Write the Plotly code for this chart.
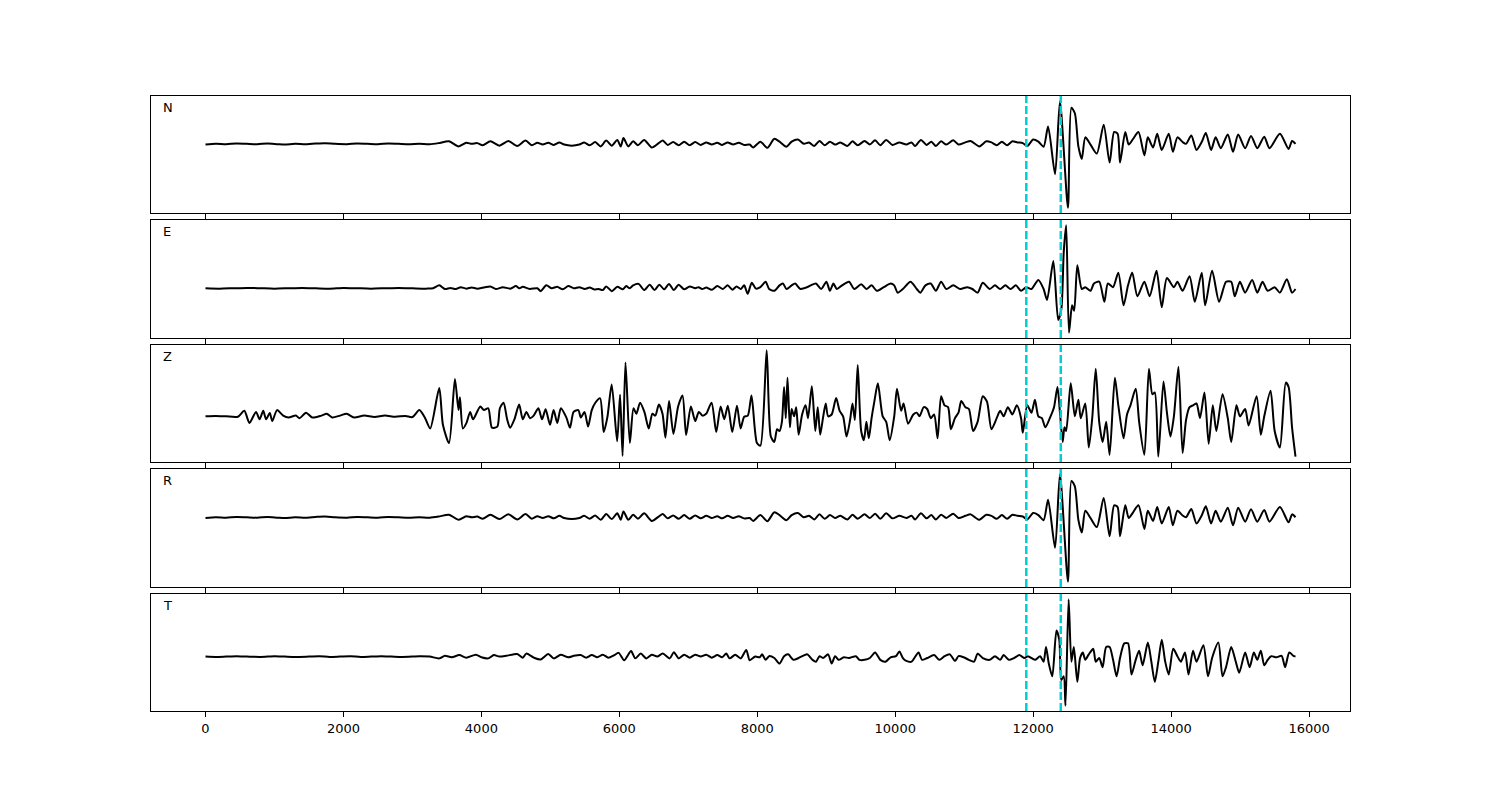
import plotly.graph_objects as go

# Seismogram turning points: (time, amplitude)
N_pts = [(0,-2),(150,0),(300,-1),(450,1),(600,0),(750,-1),(900,1),(1050,-1),(1150,-2),(1300,0),(1450,-1),(1600,1),(1730,2),(1880,0),(2050,-1),(2200,1),(2350,0),(2500,-1),(2650,1),(2800,0),(2950,-1),(3100,0),(3250,-1),(3380,2),(3530,7),(3670,-7),(3780,3),(3860,0),(3940,2),(4020,-4),(4130,7),(4260,-5),(4390,8),(4520,-6),(4640,9),(4730,-4),(4810,3),(4890,-2),(4970,3),(5050,-3),(5130,4),(5200,-2),(5310,-5),(5420,-2),(5490,4),(5570,-4),(5650,5),(5730,-7),(5810,9),(5890,-5),(5970,11),(6020,-7),(6060,16),(6130,-7),(6200,7),(6270,-4),(6360,11),(6470,-10),(6570,2),(6630,9),(6700,-3),(6780,5),(6860,-4),(6940,6),(7020,-4),(7100,5),(7180,-3),(7260,4),(7340,-2),(7420,3),(7490,-3),(7570,4),(7650,-2),(7730,3),(7810,-3),(7890,-2),(7940,-10),(8045,6),(8146,-11),(8247,14),(8322,6),(8423,-8),(8498,6),(8589,12),(8675,0),(8750,4),(8826,-6),(8902,8),(8977,-4),(9053,6),(9128,-2),(9204,4),(9305,-6),(9380,7),(9456,-4),(9556,8),(9632,-2),(9708,10),(9783,-4),(9869,11),(9959,-3),(10060,4),(10161,-2),(10237,4),(10287,-6),(10373,11),(10453,-3),(10524,6),(10589,-6),(10665,7),(10740,-2),(10841,10),(10917,-2),(11017,4),(11093,8),(11219,-7),(11320,7),(11395,4),(11471,-4),(11546,6),(11622,-4),(11698,7),(11773,4),(11849,2),(11914,-6),(12000,12),(12075,6),(12151,-8),(12216,48),(12317,-84),(12388,118),(12504,-177),(12554,100),(12604,85),(12655,-7),(12705,-42),(12755,18),(12831,-2),(12922,-27),(13022,53),(13108,-52),(13174,33),(13224,28),(13259,-52),(13335,33),(13385,-2),(13446,13),(13526,33),(13612,-32),(13662,18),(13738,-10),(13798,28),(13864,-17),(13965,28),(14025,-22),(14091,18),(14166,5),(14216,0),(14292,23),(14368,-17),(14443,5),(14503,30),(14579,-17),(14645,18),(14720,-12),(14821,26),(14897,-22),(14972,26),(15073,-12),(15158,22),(15249,-12),(15350,20),(15425,-12),(15577,28),(15703,-14),(15753,8),(15803,0)]

E_pts = [(0,0),(200,-1),(400,0),(600,1),(800,0),(1000,-1),(1200,0),(1400,1),(1600,0),(1800,-1),(2000,1),(2200,0),(2400,-1),(2600,0),(2800,1),(3000,0),(3200,-1),(3300,0),(3390,8),(3470,-2),(3550,1),(3630,-2),(3700,3),(3780,-1),(3860,2),(3940,-1),(4050,3),(4130,5),(4210,-2),(4310,3),(4420,-1),(4500,6),(4550,0),(4600,4),(4700,-2),(4810,0),(4860,-8),(4940,8),(5020,0),(5100,4),(5180,-3),(5260,6),(5340,0),(5420,3),(5500,-2),(5570,2),(5630,-3),(5700,-2),(5760,-5),(5810,5),(5890,-8),(5970,4),(6050,-3),(6100,6),(6150,0),(6200,8),(6280,12),(6360,-5),(6440,10),(6510,-5),(6580,10),(6650,-3),(6720,12),(6790,-5),(6860,10),(6940,-3),(7020,5),(7100,0),(7150,3),(7200,-2),(7260,2),(7340,-4),(7420,6),(7500,-2),(7570,8),(7640,-4),(7700,5),(7760,-2),(7810,8),(7860,-15),(7920,15),(7980,-1),(8045,3),(8121,18),(8171,-2),(8247,-7),(8322,8),(8372,13),(8423,-2),(8498,8),(8549,13),(8624,-2),(8725,3),(8776,8),(8851,13),(8927,-2),(9002,18),(9053,-7),(9103,13),(9153,-2),(9229,8),(9330,18),(9405,-2),(9506,11),(9582,-2),(9657,8),(9733,-7),(9833,3),(9934,13),(9985,8),(10035,-12),(10111,-2),(10221,18),(10312,-2),(10363,-12),(10438,8),(10514,13),(10589,-7),(10665,18),(10740,-2),(10841,8),(10942,-2),(11043,3),(11118,-2),(11194,-12),(11269,15),(11370,-2),(11446,8),(11521,-2),(11597,8),(11672,-2),(11748,8),(11824,-7),(11899,3),(11975,-2),(12075,23),(12151,-2),(12201,-32),(12292,75),(12362,-87),(12408,-57),(12443,100),(12478,173),(12519,-122),(12564,-47),(12594,-62),(12640,63),(12705,-2),(12755,3),(12831,-7),(12881,13),(12957,18),(13032,-37),(13083,13),(13158,3),(13234,43),(13310,-47),(13375,8),(13436,43),(13511,-22),(13612,18),(13688,-22),(13788,48),(13864,-52),(13939,28),(14040,3),(14091,18),(14166,-7),(14267,33),(14343,-37),(14443,43),(14493,-47),(14594,48),(14695,-37),(14796,18),(14871,18),(14922,-22),(14997,18),(15073,-12),(15174,23),(15249,-12),(15325,18),(15400,-7),(15501,3),(15577,-12),(15677,25),(15753,-12),(15803,-2)]

Z_pts = [(0,0),(150,1),(300,0),(470,-1),(563,15),(637,-18),(732,12),(784,-8),(837,15),(879,-8),(932,9),(968,-13),(1037,17),(1126,2),(1205,-3),(1310,2),(1363,-5),(1458,10),(1547,-3),(1679,2),(1758,7),(1837,-3),(1950,2),(2047,7),(2153,-3),(2300,2),(2450,-2),(2600,2),(2750,-1),(2900,1),(3000,-2),(3100,17),(3179,-3),(3258,-33),(3389,77),(3442,-23),(3531,-73),(3616,102),(3668,17),(3689,52),(3731,-33),(3784,-18),(3837,12),(3879,-8),(3984,27),(4037,17),(4100,22),(4153,-31),(4231,-28),(4268,22),(4321,37),(4373,-8),(4416,-31),(4479,-8),(4547,32),(4600,-8),(4652,12),(4705,-5),(4758,2),(4826,22),(4879,-8),(4931,19),(4995,-23),(5047,17),(5100,-18),(5152,22),(5231,-3),(5284,-31),(5337,12),(5405,17),(5442,-3),(5495,12),(5547,-28),(5600,17),(5652,37),(5721,49),(5773,-43),(5826,-3),(5889,87),(5968,-68),(6010,59),(6047,-108),(6089,147),(6152,-73),(6205,22),(6247,7),(6300,37),(6363,12),(6426,-33),(6479,7),(6521,2),(6573,32),(6626,7),(6668,-58),(6721,42),(6784,-48),(6852,27),(6916,57),(6968,-51),(7037,27),(7100,-13),(7152,12),(7205,2),(7258,7),(7337,37),(7405,-43),(7468,27),(7521,-8),(7573,29),(7637,-43),(7705,29),(7758,-33),(7810,-1),(7863,2),(7916,57),(7995,-73),(8045,-80),(8136,180),(8196,-55),(8247,-70),(8287,-35),(8322,-40),(8357,-15),(8388,80),(8413,-5),(8438,105),(8473,-30),(8498,20),(8534,0),(8564,25),(8599,-50),(8650,5),(8700,30),(8735,-5),(8791,82),(8841,-40),(8876,25),(8912,-50),(8952,-5),(8992,35),(9027,0),(9078,5),(9143,50),(9194,15),(9244,0),(9294,-55),(9345,-10),(9380,35),(9415,-10),(9456,140),(9506,-40),(9546,-65),(9582,-15),(9617,-60),(9657,-5),(9697,40),(9748,90),(9818,0),(9869,-15),(9919,-65),(9985,0),(10025,75),(10085,15),(10121,35),(10186,-20),(10262,5),(10312,10),(10352,0),(10413,25),(10463,20),(10514,-5),(10564,5),(10614,-60),(10665,55),(10715,30),(10766,25),(10806,-35),(10866,-5),(10917,10),(10957,42),(11017,25),(11068,20),(11128,-40),(11194,-15),(11269,55),(11330,40),(11395,-35),(11471,-5),(11521,15),(11572,0),(11632,25),(11698,5),(11763,30),(11824,-5),(11849,-45),(11914,30),(11975,10),(12025,45),(12075,0),(12126,-5),(12176,-30),(12252,0),(12302,25),(12352,80),(12388,10),(12428,-70),(12453,-30),(12478,-40),(12544,90),(12604,0),(12655,45),(12690,-5),(12755,35),(12806,-85),(12856,-5),(12907,130),(12957,-15),(13007,-70),(13058,-15),(13108,-105),(13184,105),(13234,30),(13310,-60),(13360,5),(13410,30),(13486,75),(13536,-15),(13612,-105),(13678,130),(13728,60),(13763,65),(13814,-110),(13889,95),(13939,10),(13990,-55),(14040,0),(14106,135),(14166,-100),(14216,-10),(14267,25),(14317,30),(14368,35),(14418,-5),(14483,65),(14544,-75),(14604,30),(14655,-40),(14745,60),(14821,-5),(14871,-70),(14947,30),(14997,0),(15073,20),(15123,-25),(15239,55),(15300,-50),(15350,0),(15441,70),(15501,-40),(15577,-85),(15662,92),(15703,80),(15753,-30),(15803,-110)]

# The R component is indistinguishable from N at this resolution
R_pts = list(N_pts)

T_pts = [(0,0),(150,-1),(300,0),(450,1),(600,0),(800,-1),(1000,1),(1150,0),(1300,-1),(1500,0),(1650,1),(1800,-1),(1950,0),(2100,1),(2250,-1),(2400,0),(2550,1),(2700,0),(2850,-1),(3000,0),(3100,1),(3250,0),(3390,-5),(3470,2),(3570,-2),(3680,4),(3780,-3),(3920,5),(4000,-2),(4100,-5),(4180,4),(4260,0),(4360,2),(4520,7),(4600,-3),(4650,8),(4760,-3),(4860,-8),(4970,7),(5050,-5),(5150,5),(5260,-2),(5340,2),(5440,4),(5520,-3),(5600,4),(5680,-2),(5760,5),(5840,-3),(5920,3),(5990,10),(6070,-10),(6170,15),(6230,-5),(6310,8),(6390,-5),(6470,5),(6550,0),(6630,8),(6730,-5),(6790,12),(6860,-5),(6940,5),(7020,-3),(7100,5),(7180,0),(7260,5),(7340,-3),(7420,4),(7490,-2),(7550,8),(7600,-5),(7680,5),(7760,-5),(7840,18),(7890,-10),(7970,0),(8036,-2),(8070,6),(8121,-9),(8171,1),(8247,-4),(8322,-19),(8388,1),(8448,6),(8524,-9),(8599,-4),(8675,3),(8725,6),(8801,-9),(8851,-14),(8902,1),(8952,-4),(9027,6),(9078,-19),(9128,1),(9179,-9),(9254,-2),(9330,-4),(9430,1),(9481,-9),(9556,-9),(9632,-4),(9708,11),(9783,-9),(9859,-14),(9934,-2),(10010,1),(10060,14),(10111,-4),(10161,-12),(10237,-14),(10337,11),(10388,-9),(10463,-4),(10564,4),(10640,-9),(10715,1),(10791,6),(10866,-12),(10917,1),(10992,-2),(11068,-9),(11143,-14),(11194,8),(11269,-4),(11370,-9),(11446,1),(11521,-9),(11572,4),(11647,-9),(11723,-4),(11798,4),(11874,-4),(11924,1),(12025,-9),(12101,1),(12151,-14),(12186,26),(12226,-19),(12277,-54),(12337,71),(12378,46),(12408,-64),(12443,-54),(12468,-134),(12514,156),(12554,-14),(12589,26),(12640,-69),(12680,-4),(12720,11),(12755,-9),(12806,6),(12871,21),(12907,-14),(12957,-4),(13007,-29),(13058,26),(13108,26),(13158,-9),(13209,-54),(13259,-4),(13320,36),(13375,36),(13425,-49),(13486,-9),(13536,16),(13587,-24),(13662,38),(13713,-14),(13763,-69),(13814,-14),(13864,46),(13914,-14),(13965,-49),(14030,21),(14091,1),(14141,-14),(14201,11),(14252,-49),(14317,16),(14368,-14),(14468,31),(14534,-54),(14594,-4),(14685,38),(14745,-54),(14796,-29),(14871,26),(14937,-14),(14987,-44),(15073,11),(15138,-29),(15199,11),(15249,-9),(15300,16),(15350,-24),(15400,-9),(15451,1),(15526,-2),(15602,2),(15652,-29),(15713,11),(15778,1),(15803,1)]

components = ["N", "E", "Z", "R", "T"]
component_pts = [N_pts, E_pts, Z_pts, R_pts, T_pts]
pick_times = [11900, 12400]
tick_values = [0, 2000, 4000, 6000, 8000, 10000, 12000, 14000, 16000]

# panel vertical domains (paper fraction), top to bottom
domains = [(0.8098, 1.0), (0.6065, 0.7984), (0.4049, 0.5951), (0.2016, 0.3935), (0.0, 0.1902)]

fig = go.Figure()
shapes = []
annotations = []
all_t = [p[0] for pts in component_pts for p in pts]
tmin, tmax = min(all_t), max(all_t)
tpad = 0.05 * (tmax - tmin)
xrange = [tmin - tpad, tmax + tpad]

layout_axes = {}
for i, (name, pts) in enumerate(zip(components, component_pts)):
    suffix = "" if i == 0 else str(i + 1)
    t = [p[0] for p in pts]
    a = [p[1] for p in pts]
    fig.add_trace(go.Scatter(
        x=t, y=a, mode="lines",
        line=dict(color="black", width=2, shape="spline", smoothing=0.7),
        xaxis="x" + suffix, yaxis="y" + suffix,
        showlegend=False, hoverinfo="skip"))
    lo, hi = min(a), max(a)
    pad = 0.05 * (hi - lo)
    last = (i == len(components) - 1)
    layout_axes["xaxis" + suffix] = dict(
        domain=[0, 1], anchor="y" + suffix, range=xrange,
        showline=True, mirror=True, linecolor="black", linewidth=1,
        ticks="outside", ticklen=5, tickwidth=1, tickcolor="black",
        tickvals=tick_values, ticktext=[str(v) for v in tick_values],
        showticklabels=last, showgrid=False, zeroline=False,
        tickfont=dict(family="DejaVu Sans", size=13, color="black"),
        **({} if i == 0 else {"matches": "x"}))
    layout_axes["yaxis" + suffix] = dict(
        domain=list(domains[i]), anchor="x" + suffix,
        range=[lo - pad, hi + pad],
        showline=True, mirror=True, linecolor="black", linewidth=1,
        showticklabels=False, ticks="", showgrid=False, zeroline=False)
    for pt in pick_times:
        shapes.append(dict(
            type="line", xref="x" + suffix, yref="y" + suffix + " domain",
            x0=pt, x1=pt, y0=0, y1=1,
            line=dict(color="#00CED1", width=2.5, dash="8px,3px")))
    annotations.append(dict(
        text=name, xref="x" + suffix + " domain", yref="y" + suffix + " domain",
        x=0.008, y=0.9, xanchor="left", yanchor="middle", showarrow=False,
        font=dict(family="DejaVu Sans", size=13, color="black")))

fig.update_layout(
    width=1500, height=800,
    margin=dict(l=143, r=158, t=88, b=97),
    paper_bgcolor="white", plot_bgcolor="white",
    shapes=shapes, annotations=annotations,
    **layout_axes)

fig.write_html("out.html")
